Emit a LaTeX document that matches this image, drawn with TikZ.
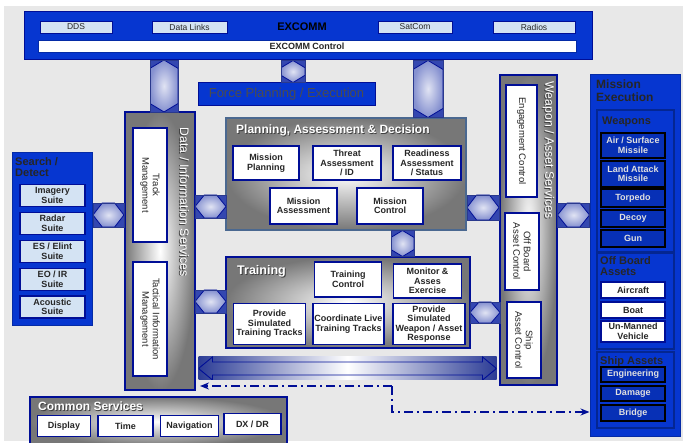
\documentclass[tikz,border=0pt]{standalone}
\usepackage{fontspec}
\setmainfont{Liberation Sans}
\usepackage{tikz}
\usetikzlibrary{arrows.meta,calc}

\definecolor{fond}{HTML}{E8E8E8}
\definecolor{bleu}{HTML}{0636D0}
\definecolor{bleufonce}{HTML}{000E96}
\definecolor{bleuclair}{HTML}{D4E3F3}
\definecolor{bleuarme}{HTML}{0730B6}
\definecolor{tuile}{HTML}{3447B0}
\definecolor{gris}{HTML}{777777}
\definecolor{acier}{HTML}{4A6890}

\newcommand\ombre[1]{\rlap{\kern.9pt\raisebox{-.9pt}{\textcolor{black!75}{#1}}}#1}

\begin{document}
\begin{tikzpicture}[x=1pt, y=-1pt,
    every node/.style={font=\fontsize{9}{9.5}\selectfont\bfseries, align=center, inner sep=0pt},
    item/.style={draw=bleufonce, line width=1.4pt, fill=white, text=black!85},
    vitem/.style={item, rotate=-90, font=\fontsize{9.5}{10.5}\selectfont},
    suite/.style={item, fill=bleuclair},
    arme/.style={draw=black, line width=1.4pt, fill=bleuarme, text=black!12},
    bleubox/.style={draw=bleufonce, line width=1pt, fill=bleu},
    panneau/.style={draw=bleu!70!black, line width=1.2pt, fill=bleu},
    bloc/.style={draw=bleufonce, line width=1.2pt, inner color=white, outer color=gris},
    titre/.style={text=white, font=\fontsize{12}{14}\selectfont\bfseries},
    titresombre/.style={text=black!85, align=left, font=\fontsize{11}{11.5}\selectfont\bfseries},
    tileh/.style={rectangle, fill=tuile, draw=tuile!80!black, line width=.4pt,
      path picture={
        \path[draw=bleufonce, line width=.8pt, inner color=white!85!tuile, outer color=tuile!60]
          let \p1=(path picture bounding box.south west), \p2=(path picture bounding box.north east) in
          (\x1,{(\y1+\y2)/2}) -- ({\x1+.3*(\x2-\x1)},\y2) -- ({\x2-.3*(\x2-\x1)},\y2)
          -- (\x2,{(\y1+\y2)/2}) -- ({\x2-.3*(\x2-\x1)},\y1) -- ({\x1+.3*(\x2-\x1)},\y1) -- cycle;
      }},
    tilev/.style={rectangle, fill=tuile, draw=tuile!80!black, line width=.4pt,
      path picture={
        \path[draw=bleufonce, line width=.8pt, inner color=white!85!tuile, outer color=tuile!60]
          let \p1=(path picture bounding box.south west), \p2=(path picture bounding box.north east) in
          ({(\x1+\x2)/2},\y2) -- (\x2,{\y2-.3*(\x2-\x1)}) -- (\x2,{\y1+.3*(\x2-\x1)})
          -- ({(\x1+\x2)/2},\y1) -- (\x1,{\y1+.3*(\x2-\x1)}) -- (\x1,{\y2-.3*(\x2-\x1)}) -- cycle;
      }},
    longue/.style={rectangle, left color=tuile!85!black, right color=tuile!85!black, middle color=white,
      path picture={
        \draw[bleufonce, line width=.9pt]
          let \p1=(path picture bounding box.south west), \p2=(path picture bounding box.north east) in
          (\x1,{(\y1+\y2)/2}) -- ({\x1+14pt},\y2) -- ({\x1+14pt},{\y2-5pt}) -- ({\x2-14pt},{\y2-5pt})
          -- ({\x2-14pt},\y2) -- (\x2,{(\y1+\y2)/2}) -- ({\x2-14pt},\y1) -- ({\x2-14pt},{\y1+5pt})
          -- ({\x1+14pt},{\y1+5pt}) -- ({\x1+14pt},\y1) -- cycle;
      }},
    tiret/.style={draw=bleufonce, line width=1.5pt, dash pattern=on 9pt off 4pt on 2pt off 4pt,
      -{Stealth[length=9pt, width=7pt]}}]
  \useasboundingbox (0,0) rectangle (683,443);
  \clip (0,0) rectangle (683,443);
  \fill[fond] (4,6) rectangle (683,441);

  % EXCOMM
  \node[bleubox, minimum width=568pt, minimum height=48pt] (excomm) at (308,36) {};
  \node[font=\fontsize{11}{12}\selectfont\bfseries] (excommt) at (302,27) {EXCOMM};
  \node[suite, line width=.8pt, minimum width=72pt, minimum height=12pt, font=\fontsize{8.5}{9}\selectfont] (dds) at (76,27) {DDS};
  \node[suite, line width=.8pt, minimum width=75pt, minimum height=12pt, font=\fontsize{8.5}{9}\selectfont] (links) at (189.5,27) {Data Links};
  \node[suite, line width=.8pt, minimum width=74pt, minimum height=12pt, font=\fontsize{8.5}{9}\selectfont] (satcom) at (415,27) {SatCom};
  \node[suite, line width=.8pt, minimum width=82pt, minimum height=12pt, font=\fontsize{8.5}{9}\selectfont] (radios) at (534,27) {Radios};
  \node[item, draw=bleu!80!black, line width=.8pt, minimum width=538pt, minimum height=12pt] (ectrl) at (307,46) {EXCOMM Control};

  \node[bleubox, minimum width=177pt, minimum height=23pt, text=black!70, font=\fontsize{13}{14}\selectfont] (force) at (286.5,94.5) {Force Planning / Execution};

  % Search / Detect
  \node[bleubox, draw=bleu!80!black, minimum width=80pt, minimum height=173pt] (search) at (52,239.5) {};
  \node[titresombre, anchor=north west] (searcht) at (15,157) {Search /\\Detect};
  \node[suite, minimum width=65pt, minimum height=22pt] (imagery) at (52.5,195.5) {Imagery\\Suite};
  \node[suite, minimum width=65pt, minimum height=22pt] (radar) at (52.5,223.5) {Radar\\Suite};
  \node[suite, minimum width=65pt, minimum height=22pt] (elint) at (52.5,251.5) {ES / Elint\\Suite};
  \node[suite, minimum width=65pt, minimum height=22pt] (eoir) at (52.5,279.5) {EO / IR\\Suite};
  \node[suite, minimum width=65pt, minimum height=22pt] (acoustic) at (52.5,307) {Acoustic\\Suite};

  % Data / Information Services
  \node[bloc, minimum width=70pt, minimum height=278pt] (data) at (160,251) {};
  \node[titre, rotate=-90, font=\fontsize{12.3}{14}\selectfont] (datat) at (184,202) {\ombre{Data / Information Services}};
  \node[vitem, minimum width=114pt, minimum height=34pt] (track) at (150,185) {Track\\Management};
  \node[vitem, minimum width=114pt, minimum height=34pt] (tim) at (150,319) {Tactical Information\\Management};

  % Planning, Assessment & Decision
  \node[bloc, draw=acier, minimum width=240pt, minimum height=112pt] (pad) at (346,174) {};
  \node[titre, anchor=west] (padt) at (236,131) {\ombre{Planning, Assessment \& Decision}};
  \node[item, minimum width=66pt, minimum height=34pt] (mplan) at (266,163) {Mission\\Planning};
  \node[item, minimum width=68pt, minimum height=34pt] (threat) at (347,163) {Threat\\Assessment\\/ ID};
  \node[item, minimum width=68pt, minimum height=34pt] (ready) at (427,163) {Readiness\\Assessment\\/ Status};
  \node[item, minimum width=67pt, minimum height=36pt] (massess) at (303.5,206) {Mission\\Assessment};
  \node[item, minimum width=66pt, minimum height=36pt] (mctrl) at (390,206) {Mission\\Control};

  % Training
  \node[bloc, minimum width=244pt, minimum height=91pt] (train) at (348,302.5) {};
  \node[titre, anchor=west, font=\fontsize{12.5}{14}\selectfont\bfseries] (traint) at (237,272) {\ombre{Training}};
  \node[item, minimum width=67pt, minimum height=35pt] (tctrl) at (348,279.5) {Training\\Control};
  \node[item, minimum width=68pt, minimum height=34pt] (monitor) at (427.5,281) {Monitor \&\\Asses\\Exercise};
  \node[item, minimum width=72pt, minimum height=41pt] (simtracks) at (269.5,324) {Provide\\Simulated\\Training Tracks};
  \node[item, minimum width=71pt, minimum height=41pt] (coordlive) at (348.5,324) {Coordinate Live\\Training Tracks};
  \node[item, minimum width=72pt, minimum height=41pt] (simweapon) at (429,324) {Provide\\Simulated\\Weapon / Asset\\Response};

  % Weapon / Asset Services
  \node[bloc, minimum width=57pt, minimum height=310pt] (wpn) at (528.5,230) {};
  \node[titre, rotate=-90, font=\fontsize{12.3}{14}\selectfont] (wpnt) at (548,150) {\ombre{Weapon / Asset Services}};
  \node[vitem, minimum width=112pt, minimum height=31pt] (engage) at (521.5,141) {Engagement Control};
  \node[vitem, minimum width=77pt, minimum height=34pt] (offboard) at (522,251.5) {Off Board\\Asset Control};
  \node[vitem, minimum width=76pt, minimum height=34pt] (ship) at (524,340) {Ship\\Asset Control};

  % Mission Execution
  \node[bleubox, draw=bleu!80!black, minimum width=90pt, minimum height=362pt] (mission) at (635,256) {};
  \node[titresombre, anchor=north west, font=\fontsize{12}{13}\selectfont\bfseries] (missiont) at (596,80) {Mission\\Execution};
  \node[panneau, minimum width=77pt, minimum height=142pt] (wpanel) at (635.5,181) {};
  \node[titresombre, anchor=west] (wpanelt) at (602,122) {Weapons};
  \node[arme, minimum width=64pt, minimum height=25pt] (airsurf) at (633,145.5) {Air / Surface\\Missile};
  \node[arme, minimum width=64pt, minimum height=26pt] (landatt) at (633,174) {Land Attack\\Missile};
  \node[arme, minimum width=64pt, minimum height=18pt] (torpedo) at (633,198) {Torpedo};
  \node[arme, minimum width=64pt, minimum height=17pt] (decoy) at (633,218.5) {Decoy};
  \node[arme, minimum width=64pt, minimum height=17pt] (gun) at (633,238.5) {Gun};
  \node[panneau, minimum width=77pt, minimum height=96pt] (opanel) at (635.5,301) {};
  \node[titresombre, anchor=north west] (opanelt) at (600,256) {Off Board\\Assets};
  \node[item, minimum width=64pt, minimum height=16pt] (aircraft) at (633,290) {Aircraft};
  \node[item, minimum width=64pt, minimum height=16pt] (boat) at (633,310) {Boat};
  \node[item, minimum width=64pt, minimum height=21pt] (unmanned) at (633,331.5) {Un-Manned\\Vehicle};
  \node[panneau, minimum width=77pt, minimum height=76pt] (spanel) at (635.5,390) {};
  \node[titresombre, anchor=west] (spanelt) at (600,362) {Ship Assets};
  \node[arme, minimum width=64pt, minimum height=15pt] (engineering) at (633,374.5) {Engineering};
  \node[arme, minimum width=64pt, minimum height=15pt] (damage) at (633,393.5) {Damage};
  \node[arme, minimum width=64pt, minimum height=16pt] (bridge) at (633,413) {Bridge};

  % Common Services
  \node[bloc, minimum width=257pt, minimum height=49pt] (common) at (158.5,421.5) {};
  \node[titre, anchor=west] (commont) at (38,407) {\ombre{Common Services}};
  \node[item, minimum width=53pt, minimum height=21pt] (display) at (64,426) {Display};
  \node[item, minimum width=55pt, minimum height=21pt] (time) at (125.5,426) {Time};
  \node[item, minimum width=58pt, minimum height=21pt] (nav) at (189.5,426) {Navigation};
  \node[item, minimum width=57pt, minimum height=21pt] (dxdr) at (252.5,424) {DX / DR};

  % Liaisons
  \path (excomm.south -| 164,0) -- node[tilev, minimum width=28pt, minimum height=52pt] {} (data.north -| 164,0);
  \path (excomm.south -| 293,0) -- node[tilev, minimum width=24pt, minimum height=22pt] {} (force.north -| 293,0);
  \path (excomm.south -| 428,0) -- node[tilev, minimum width=30pt, minimum height=57pt] {} (pad.north -| 428,0);
  \path (pad.south -| 402.5,0) -- node[tilev, minimum width=23pt, minimum height=26pt] {} (train.north -| 402.5,0);
  \path (search.east |- 0,215) -- node[tileh, minimum width=31pt, minimum height=24pt] {} (data.west |- 0,215);
  \path (data.east |- 0,206.5) -- node[tileh, minimum width=31pt, minimum height=23pt] {} (pad.west |- 0,206.5);
  \path (data.east |- 0,301.5) -- node[tileh, minimum width=31pt, minimum height=23pt] {} (train.west |- 0,301.5);
  \path (pad.east |- 0,207.5) -- node[tileh, minimum width=32pt, minimum height=25pt] {} (wpn.west |- 0,207.5);
  \path (train.east |- 0,312.5) -- node[tileh, minimum width=30pt, minimum height=21pt] {} (wpn.west |- 0,312.5);
  \path (wpn.east |- 0,215) -- node[tileh, minimum width=32pt, minimum height=24pt] {} (mission.west |- 0,215);
  \path (data.east |- 0,368.5) -- node[longue, minimum width=298pt, minimum height=23pt] {} (wpn.west |- 0,368.5);

  \coordinate (j) at (392,386);
  \coordinate (l) at (200,386);
  \draw[tiret] (j) -- (l);
  \draw[tiret] (j) |- (mission.west |- 0,412);
\end{tikzpicture}
\end{document}
